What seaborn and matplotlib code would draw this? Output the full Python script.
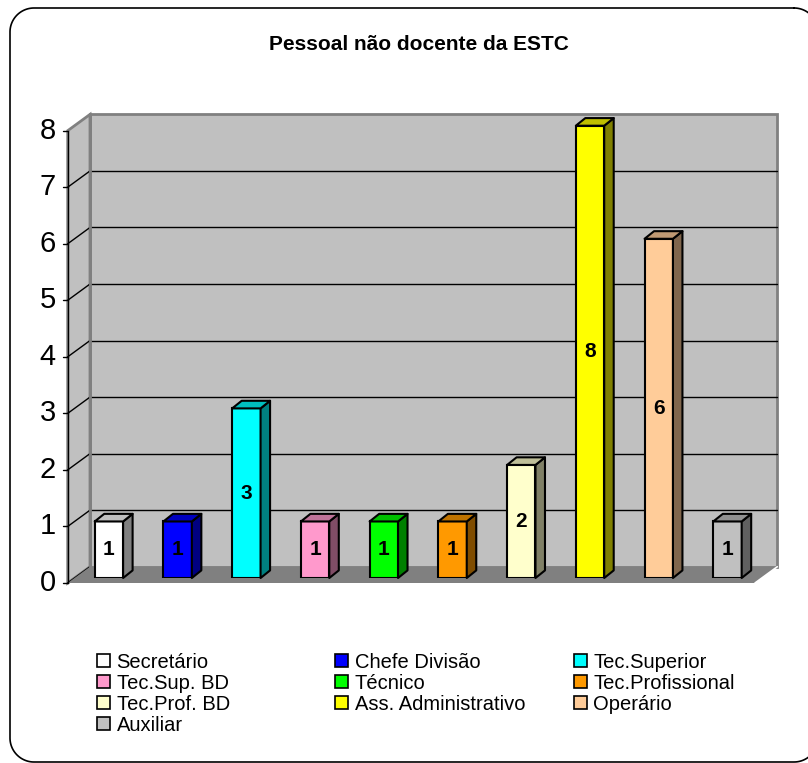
import numpy as np
import pandas as pd
import matplotlib
matplotlib.use("Agg")
import matplotlib.pyplot as plt
import seaborn as sns
from matplotlib.patches import Polygon, Patch
from matplotlib.lines import Line2D
from matplotlib.transforms import IdentityTransform
import matplotlib.colors as mcolors

# ---------------- data ----------------
title = "Pessoal não docente da ESTC"
categories = ["Secretário", "Chefe Divisão", "Tec.Superior", "Tec.Sup. BD", "Técnico",
              "Tec.Profissional", "Tec.Prof. BD", "Ass. Administrativo", "Operário", "Auxiliar"]
values = [1, 1, 3, 1, 1, 1, 2, 8, 6, 1]
colors = ["#FFFFFF", "#0000FF", "#00FFFF", "#FF99CC", "#00FF00",
          "#FF9900", "#FFFFCC", "#FFFF00", "#FFCC99", "#C0C0C0"]
y_ticks = [0, 1, 2, 3, 4, 5, 6, 7, 8]

# legend columns (row-major order in the original)
legend_cols = [[0, 3, 6, 9], [1, 4, 7], [2, 5, 8]]

# ---------------- figure ----------------
W, H, DPI = 808, 763, 100
sns.set_theme(style="white")
plt.rcParams['font.family'] = ['Liberation Sans', 'DejaVu Sans']
plt.rcParams['text.color'] = 'black'

fig = plt.figure(figsize=(W / DPI, H / DPI), dpi=DPI)
fig.patch.set_facecolor("white")

# rounded outer frame, in display pixels (y up)
L, R, T, B, r = 10.0, 818.0, H - 8.0, H - 762.0, 24.0
def arc(cx, cy, a0, a1, n=30):
    t = np.radians(np.linspace(a0, a1, n))
    return list(cx + r * np.cos(t)), list(cy + r * np.sin(t))
fx, fy = [], []
for (cx, cy, a0, a1) in [(R - r, T - r, 90, 0), (R - r, B + r, 0, -90),
                         (L + r, B + r, -90, -180), (L + r, T - r, 180, 90)]:
    ax_, ay_ = arc(cx, cy, a0, a1)
    fx += ax_
    fy += ay_
fx.append(fx[0]); fy.append(fy[0])
fig.add_artist(Line2D(fx, fy, transform=IdentityTransform(), color="black", lw=1.2))

fig.text(419 / W, 1 - 45 / H, title, ha="center", va="center",
         fontsize=15, fontweight="bold", color="black")

# bar plane of the pseudo 3D chart (pixels)
x0_px, x1_px = 74.55, 761.85
ybot_px, ytop_px = 578.0, 125.7
ax = fig.add_axes([x0_px / W, 1 - ybot_px / H, (x1_px - x0_px) / W, (ybot_px - ytop_px) / H])

df = pd.DataFrame({"cat": categories, "val": values})
sns.barplot(data=df, x="cat", y="val", hue="cat", palette=dict(zip(categories, colors)),
            saturation=1, width=0.413, edgecolor="black", linewidth=1.5,
            legend=False, ax=ax, zorder=3)
ax.set_xlim(-0.5, len(categories) - 0.5)
ax.set_ylim(0, max(y_ticks))
ax.axis("off")

sx = (x1_px - x0_px) / len(categories)
sy = (ybot_px - ytop_px) / max(y_ticks)

FRONT = (-6.85, -5.0)
BACK = (15.45, 11.3)
DEPTH = (9.5, 7.6)

def P(x, y, off):
    return (x + off[0] / sx, y + off[1] / sy)

xl, xr = -0.5, len(categories) - 0.5
ymax = max(y_ticks)

# back wall
ax.add_patch(Polygon([P(xl, 0, BACK), P(xr, 0, BACK), P(xr, ymax, BACK), P(xl, ymax, BACK)],
                     closed=True, fc="#C0C0C0", ec="#808080", lw=2, zorder=0.5, clip_on=False))
# left wall
ax.add_patch(Polygon([P(xl, 0, FRONT), P(xl, ymax, FRONT), P(xl, ymax, BACK), P(xl, 0, BACK)],
                     closed=True, fc="#C0C0C0", ec="#808080", lw=2, zorder=0.5, clip_on=False))
# grid lines
for v in y_ticks[1:-1]:
    a, b = P(xl, v, BACK), P(xr, v, BACK)
    ax.add_line(Line2D([a[0], b[0]], [a[1], b[1]], color="black", lw=1, zorder=0.6, clip_on=False))
for v in y_ticks[:-1]:
    a, b = P(xl, v, FRONT), P(xl, v, BACK)
    ax.add_line(Line2D([a[0], b[0]], [a[1], b[1]], color="black", lw=1, zorder=0.6, clip_on=False))
# floor
ax.add_patch(Polygon([P(xl, 0, FRONT), P(xr, 0, FRONT), P(xr, 0, BACK), P(xl, 0, BACK)],
                     closed=True, fc="#808080", ec="none", zorder=0.7, clip_on=False))
a, b = P(xr, 0, FRONT), P(xr, 0, BACK)
ax.add_line(Line2D([a[0], b[0]], [a[1], b[1]], color="white", lw=1.2, zorder=0.75, clip_on=False))
a, b = P(xl, 0, BACK), P(xl, ymax, BACK)
ax.add_line(Line2D([a[0], b[0]], [a[1], b[1]], color="#808080", lw=2, zorder=0.72, clip_on=False))

# front value axis
a, b = P(xl, 0, FRONT), P(xl, ymax, FRONT)
ax.add_line(Line2D([a[0], b[0]], [a[1], b[1]], color="black", lw=1, zorder=0.8, clip_on=False))
for v in y_ticks:
    a = P(xl, v, FRONT)
    b = P(xl, v, (FRONT[0] - 5, FRONT[1]))
    ax.add_line(Line2D([a[0], b[0]], [a[1], b[1]], color="black", lw=1, zorder=0.8, clip_on=False))
    t = P(xl, v, (FRONT[0] - 12, FRONT[1]))
    ax.text(t[0], t[1], str(v), ha="right", va="center", fontsize=21, color="black", clip_on=False)

# 3D sides and tops of the bars
ddx, ddy = DEPTH[0] / sx, DEPTH[1] / sy
for cont in ax.containers:
    for bar in cont:
        x, w, h = bar.get_x(), bar.get_width(), bar.get_height()
        rgb = np.array(mcolors.to_rgb(bar.get_facecolor()))
        side = [(x + w, 0), (x + w, h), (x + w + ddx, h + ddy), (x + w + ddx, ddy)]
        top = [(x, h), (x + w, h), (x + w + ddx, h + ddy), (x + ddx, h + ddy)]
        ax.add_patch(Polygon(side, closed=True, fc=rgb * 0.5, ec="black", lw=1.5,
                             joinstyle="round", zorder=3.1, clip_on=False))
        ax.add_patch(Polygon(top, closed=True, fc=rgb * 0.75, ec="black", lw=1.5,
                             joinstyle="round", zorder=3.1, clip_on=False))
    ax.bar_label(cont, label_type="center", fontsize=15, fontweight="bold",
                 color="black", zorder=4)

# legend: three columns
col_x = [97, 335, 573.5]
leg_fs = 14.5
for cx, idxs in zip(col_x, legend_cols):
    handles = [Patch(facecolor=colors[i], edgecolor="black", linewidth=1.2) for i in idxs]
    labels = [categories[i] for i in idxs]
    leg = fig.legend(handles, labels, loc="upper left",
                     bbox_to_anchor=(cx / W, 1 - 652.5 / H), frameon=False,
                     borderpad=0, borderaxespad=0, fontsize=leg_fs,
                     handlelength=0.67, handleheight=0.67, handletextpad=0.3,
                     labelspacing=0.1, labelcolor="black")

fig.savefig("out.png", dpi=DPI, facecolor="white")
